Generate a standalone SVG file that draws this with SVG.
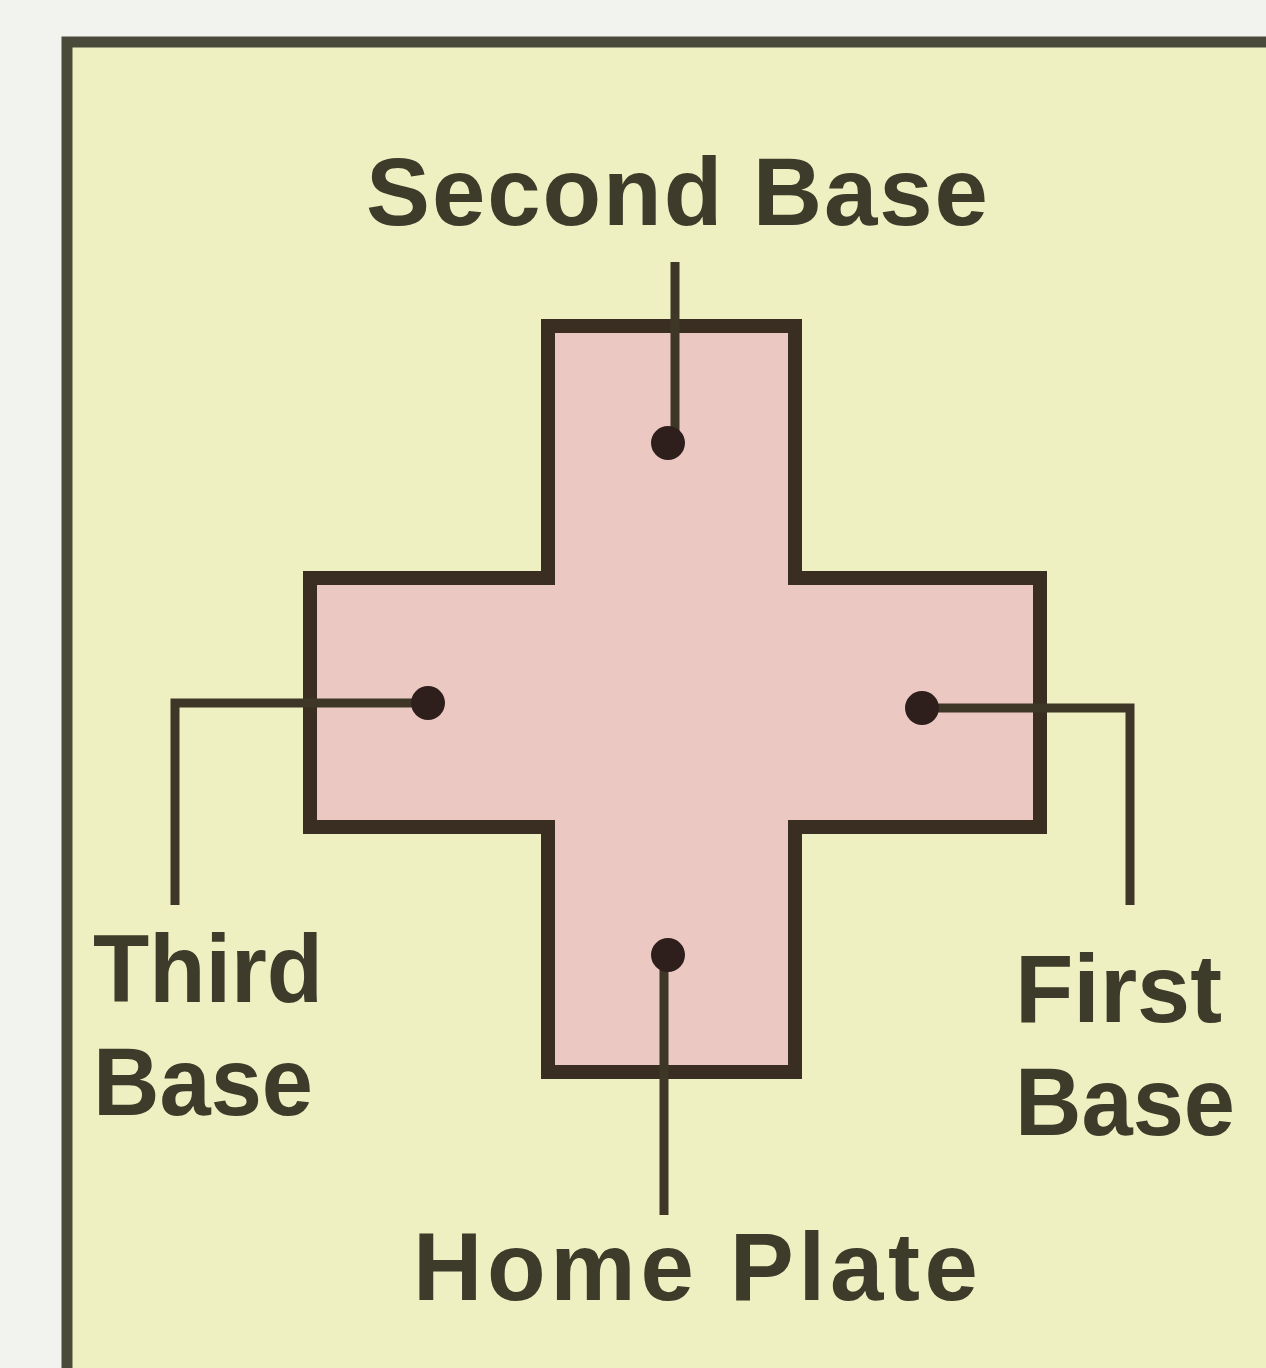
<svg xmlns="http://www.w3.org/2000/svg" width="1266" height="1368" viewBox="0 0 1266 1368">
<style>
.lbl{font-family:"Liberation Sans",Arial,sans-serif;font-weight:bold;fill:#3d3b2a;font-size:96px}
.con{fill:none;stroke:#3e3626;stroke-width:9}
.dot{fill:#2e1f1c}
</style>
<rect width="1266" height="1368" fill="#f2f2ee"/>
<g id="frame">
<rect x="67" y="42" width="1260" height="1400" fill="#eef0c2" stroke="#4a4a3a" stroke-width="11"/>
</g>
<g id="dpad">
<path d="M548,326 H795 V578 H1040 V827 H795 V1072 H548 V827 H310 V578 H548 Z" fill="#ebc9c2" stroke="#3a2e22" stroke-width="14" stroke-linejoin="miter"/>
</g>
<g id="connectors">
<path class="con" d="M675,262 V443"/>
<path class="con" d="M428,703 H175 V905"/>
<path class="con" d="M922,708 H1130 V905"/>
<path class="con" d="M664,955 V1215"/>
</g>
<g id="second-base">
<circle class="dot" cx="668" cy="443" r="17"/>
<text class="lbl" x="677" y="225" text-anchor="middle" textLength="622" lengthAdjust="spacing">Second Base</text>
</g>
<g id="third-base">
<circle class="dot" cx="428" cy="703" r="17"/>
<text class="lbl" x="93" y="1002" textLength="230" lengthAdjust="spacingAndGlyphs">Third</text>
<text class="lbl" x="93" y="1115" textLength="220" lengthAdjust="spacingAndGlyphs">Base</text>
</g>
<g id="first-base">
<circle class="dot" cx="922" cy="708" r="17"/>
<text class="lbl" x="1015" y="1022" textLength="207" lengthAdjust="spacingAndGlyphs">First</text>
<text class="lbl" x="1015" y="1135" textLength="220" lengthAdjust="spacingAndGlyphs">Base</text>
</g>
<g id="home-plate">
<circle class="dot" cx="668" cy="955" r="17"/>
<text class="lbl" x="413" y="1300" textLength="565" lengthAdjust="spacing">Home Plate</text>
</g>
</svg>
